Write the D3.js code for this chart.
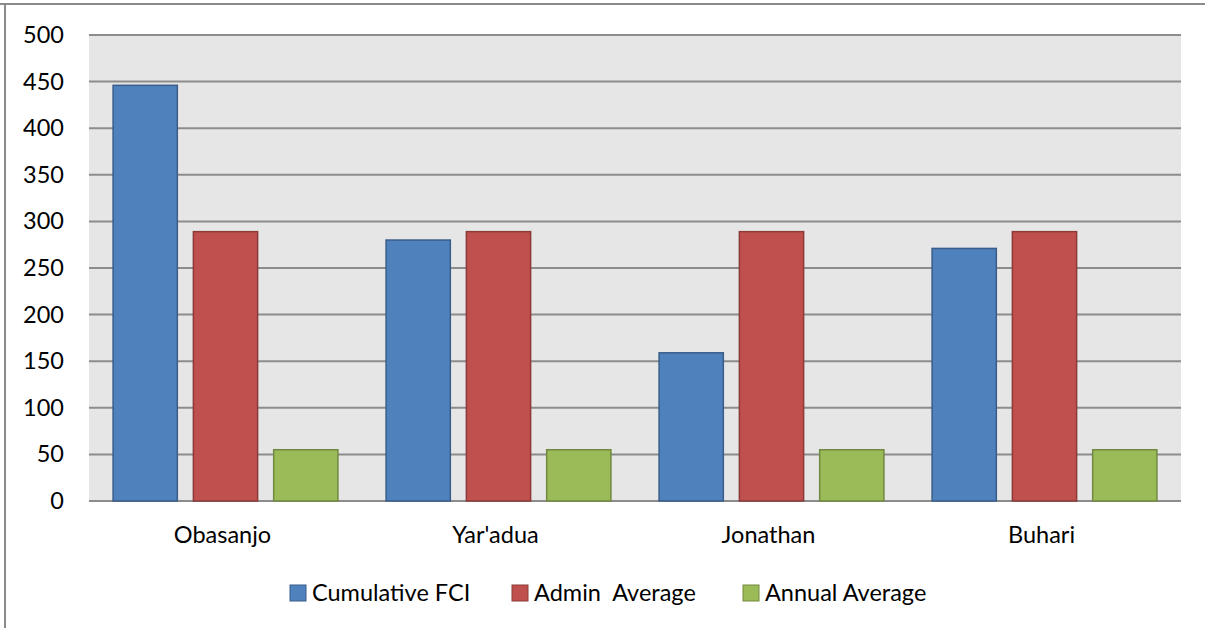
<!DOCTYPE html>
<html>
<head>
<meta charset="utf-8">
<script src="https://cdn.jsdelivr.net/npm/d3@7"></script>
<style>
  html, body { margin: 0; padding: 0; background: #fff; }
  svg { display: block; font-family: Lato, "Open Sans", sans-serif; }
</style>
</head>
<body>
<svg id="chart" width="1205" height="628"></svg>
<script>
// Administrations on the x axis
const categories = ["Obasanjo", "Yar'adua", "Jonathan", "Buhari"];
// Series values
const cumulativeFCI = [446, 280, 159, 271];
const adminAverage = [289, 289, 289, 289];
const annualAverage = [55, 55, 55, 55];
const seriesNames = ["Cumulative FCI", "Admin  Average", "Annual Average"];
const yTicks = [0, 50, 100, 150, 200, 250, 300, 350, 400, 450, 500];

const fills = ["#4F81BD", "#C0504D", "#9BBB59"];
const strokes = ["#385D8A", "#8C3A38", "#71893F"];

const series = [cumulativeFCI, adminAverage, annualAverage];

const svg = d3.select("#chart");
const plot = { left: 89, right: 1181, top: 35, bottom: 501 };
const fontSize = 23.5;

// Outer frame lines (top and left)
svg.append("line").attr("x1", 0).attr("x2", 1205).attr("y1", 4).attr("y2", 4)
  .attr("stroke", "#8a8a8a").attr("stroke-width", 2);
svg.append("line").attr("x1", 5).attr("x2", 5).attr("y1", 4).attr("y2", 628)
  .attr("stroke", "#8a8a8a").attr("stroke-width", 2);

const x = d3.scaleBand().domain(categories).range([plot.left, plot.right]).padding(0);
const y = d3.scaleLinear().domain([0, 500]).range([plot.bottom, plot.top]);

// Plot background
svg.append("rect")
  .attr("x", plot.left).attr("y", plot.top)
  .attr("width", plot.right - plot.left).attr("height", plot.bottom - plot.top)
  .attr("fill", "#E6E6E6");

// Horizontal gridlines
svg.append("g").selectAll("line").data(yTicks).join("line")
  .attr("x1", plot.left).attr("x2", plot.right)
  .attr("y1", d => y(d)).attr("y2", d => y(d))
  .attr("stroke", "#8c8c8c").attr("stroke-width", 2);

// Y axis labels
const yAxis = d3.axisLeft(y).tickValues(yTicks).tickSize(0).tickPadding(0);
const yg = svg.append("g").attr("transform", `translate(${plot.left - 25},0)`).call(yAxis);
yg.select(".domain").remove();
yg.selectAll("text").attr("font-size", fontSize).attr("fill", "#000")
  .attr("font-family", "Lato, 'Open Sans', sans-serif");

// Bars: gap width 75%, overlap -25%
const bw = x.bandwidth() / 4.25;
const groupW = 3 * bw + 2 * 0.25 * bw;
const offset = (x.bandwidth() - groupW) / 2;

series.forEach((vals, si) => {
  svg.append("g").selectAll("rect").data(vals).join("rect")
    .attr("x", (d, i) => x(categories[i]) + offset + si * 1.25 * bw)
    .attr("y", d => y(d))
    .attr("width", bw)
    .attr("height", d => y(0) - y(d))
    .attr("fill", fills[si])
    .attr("stroke", strokes[si])
    .attr("stroke-width", 1.5);
});

// Category labels
const xAxis = d3.axisBottom(x).tickSize(0).tickPadding(0);
const xg = svg.append("g").attr("transform", `translate(-3,${plot.bottom + 34})`).call(xAxis);
xg.select(".domain").remove();
xg.selectAll("text").attr("font-size", fontSize).attr("fill", "#000")
  .attr("dy", "0.35em")
  .attr("font-family", "Lato, 'Open Sans', sans-serif");

// Legend
const legendX = [290, 512, 743];
const lg = svg.append("g");
seriesNames.forEach((name, i) => {
  lg.append("rect")
    .attr("x", legendX[i]).attr("y", 585)
    .attr("width", 16).attr("height", 16)
    .attr("fill", fills[i]).attr("stroke", strokes[i]).attr("stroke-width", 1);
  lg.append("text")
    .attr("x", legendX[i] + 22).attr("y", 593)
    .attr("dy", "0.35em")
    .attr("font-size", fontSize)
    .style("white-space", "pre")
    .attr("fill", "#000")
    .text(name);
});
</script>
</body>
</html>
